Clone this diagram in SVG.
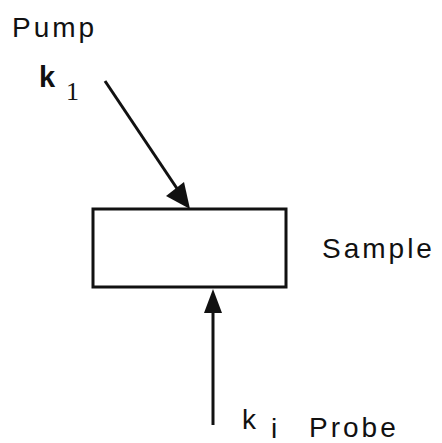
<svg xmlns="http://www.w3.org/2000/svg" width="442" height="443" viewBox="0 0 442 443">
<style>
.t{font-family:"Liberation Sans",Arial,sans-serif;fill:#111;font-size:28px;letter-spacing:3px}
.k{font-family:"Liberation Sans",Arial,sans-serif;fill:#111;font-size:29px;font-weight:bold}
.s{font-family:"Liberation Serif","Times New Roman",serif;fill:#111;font-size:26px}
.ln{stroke:#111;stroke-width:3;fill:none}
</style>
<rect width="442" height="443" fill="#fff"/>
<g id="connectors">
<line class="ln" x1="105" y1="81" x2="180" y2="193"/>
<path d="M190,209 L166,196 L184,182 z" fill="#111"/>
<line class="ln" x1="213" y1="425" x2="213" y2="310"/>
<path d="M213,289 L204,313 L222,313 z" fill="#111"/>
</g>
<g id="sample">
<rect x="93" y="209" width="193" height="78" fill="#fff" stroke="#111" stroke-width="3"/>
<text class="t" x="322" y="258">Sample</text>
</g>
<g id="pump">
<text class="t" x="12" y="37" letter-spacing="2.5">Pump</text>
<text class="k" x="39" y="87">k</text>
<text class="s" x="66" y="100">1</text>
</g>
<g id="probe">
<text class="t" x="242" y="429" letter-spacing="0">k</text>
<text class="t" x="271" y="438" font-size="20" letter-spacing="0">i</text>
<text class="t" x="309" y="437">Probe</text>
</g>
</svg>
